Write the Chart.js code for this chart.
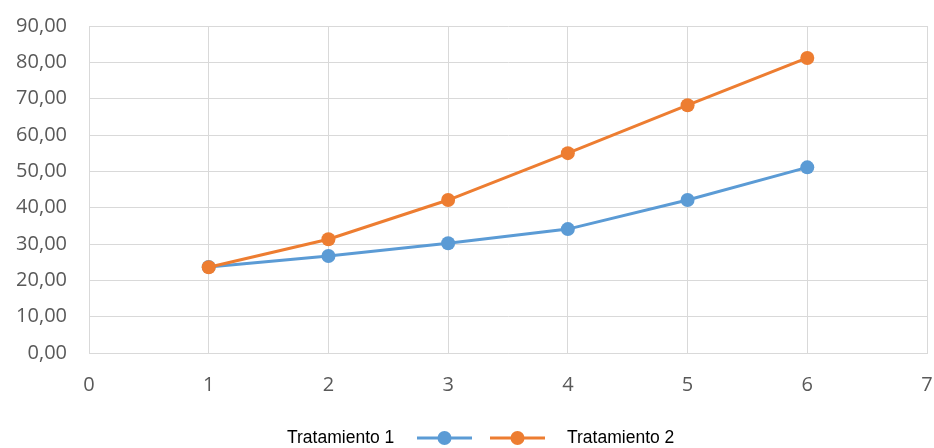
<!DOCTYPE html>
<html>
<head>
<meta charset="utf-8">
<script src="https://cdn.jsdelivr.net/npm/chart.js@4/dist/chart.umd.min.js"></script>
<style>
    html, body { margin: 0; padding: 0; background: #ffffff; }
    #wrap { width: 934px; height: 448px; position: relative; }
</style>
</head>
<body>
<div id="wrap"><canvas id="chart"></canvas></div>
<script>
// === DATA ===
const xValues = [1, 2, 3, 4, 5, 6];
const tratamiento1 = [23.7, 26.7, 30.2, 34.1, 42.1, 51.1];
const tratamiento2 = [23.6, 31.3, 42.1, 55.0, 68.2, 81.2];
const seriesNames = ['Tratamiento 1', 'Tratamiento 2'];

const BLUE = '#5b9bd5';
const ORANGE = '#ed7d31';
const GRID = '#d9d9d9';
const TICK_FONT = { size: 20, family: "'Open Sans', 'DejaVu Sans', sans-serif" };

const toPoints = (ys) => xValues.map((x, i) => ({ x: x, y: ys[i] }));

// legend drawn as: text, marker, marker, text
const customLegend = {
    id: 'customLegend',
    afterDraw(chart) {
        const ctx = chart.ctx;
        const y = 438;
        ctx.save();
        ctx.font = "17.5px 'Liberation Sans', Arial, sans-serif";
        ctx.fillStyle = '#000000';
        ctx.textBaseline = 'middle';

        const drawMarker = (x0, color) => {
            ctx.strokeStyle = color;
            ctx.lineWidth = 3;
            ctx.beginPath();
            ctx.moveTo(x0, y);
            ctx.lineTo(x0 + 55, y);
            ctx.stroke();
            ctx.fillStyle = color;
            ctx.beginPath();
            ctx.arc(x0 + 27.5, y, 7, 0, Math.PI * 2);
            ctx.fill();
        };

        ctx.textAlign = 'left';
        ctx.fillText(seriesNames[0], 287, y);
        drawMarker(417, BLUE);
        drawMarker(490, ORANGE);
        ctx.fillStyle = '#000000';
        ctx.fillText(seriesNames[1], 567, y);
        ctx.restore();
    }
};

const ctx = document.getElementById('chart').getContext('2d');
const chart = new Chart(ctx, {
    type: 'line',
    data: {
        datasets: [
            {
                label: seriesNames[0],
                data: toPoints(tratamiento1),
                borderColor: BLUE,
                backgroundColor: BLUE,
                borderWidth: 3,
                pointRadius: 7,
                pointBorderWidth: 0,
                tension: 0,
                order: 2
            },
            {
                label: seriesNames[1],
                data: toPoints(tratamiento2),
                borderColor: ORANGE,
                backgroundColor: ORANGE,
                borderWidth: 3,
                pointRadius: 7,
                pointBorderWidth: 0,
                tension: 0,
                order: 1
            }
        ]
    },
    options: {
        responsive: true,
        maintainAspectRatio: false,
        animation: false,
        layout: { padding: { top: 26, right: 5, left: 0, bottom: 0 } },
        plugins: {
            legend: { display: false },
            tooltip: { enabled: false }
        },
        scales: {
            x: {
                type: 'linear',
                min: 0,
                max: 7,
                grid: { color: GRID, lineWidth: 1, drawTicks: false },
                border: { color: GRID },
                ticks: { stepSize: 1, color: '#595959', font: TICK_FONT, padding: 20, maxRotation: 0 },
                afterFit(scale) {
                    scale.height = 95;
                    scale.paddingLeft = 0;
                    scale.paddingRight = 0;
                }
            },
            y: {
                min: 0,
                max: 90,
                grid: { color: GRID, lineWidth: 1, drawTicks: false },
                border: { color: GRID },
                ticks: {
                    stepSize: 10,
                    color: '#595959',
                    font: TICK_FONT,
                    padding: 22,
                    callback: v => v.toFixed(2).replace('.', ',')
                },
                afterFit(scale) {
                    scale.width = 89;
                    scale.paddingTop = 0;
                    scale.paddingBottom = 0;
                }
            }
        }
    },
    plugins: [customLegend]
});
</script>
</body>
</html>
